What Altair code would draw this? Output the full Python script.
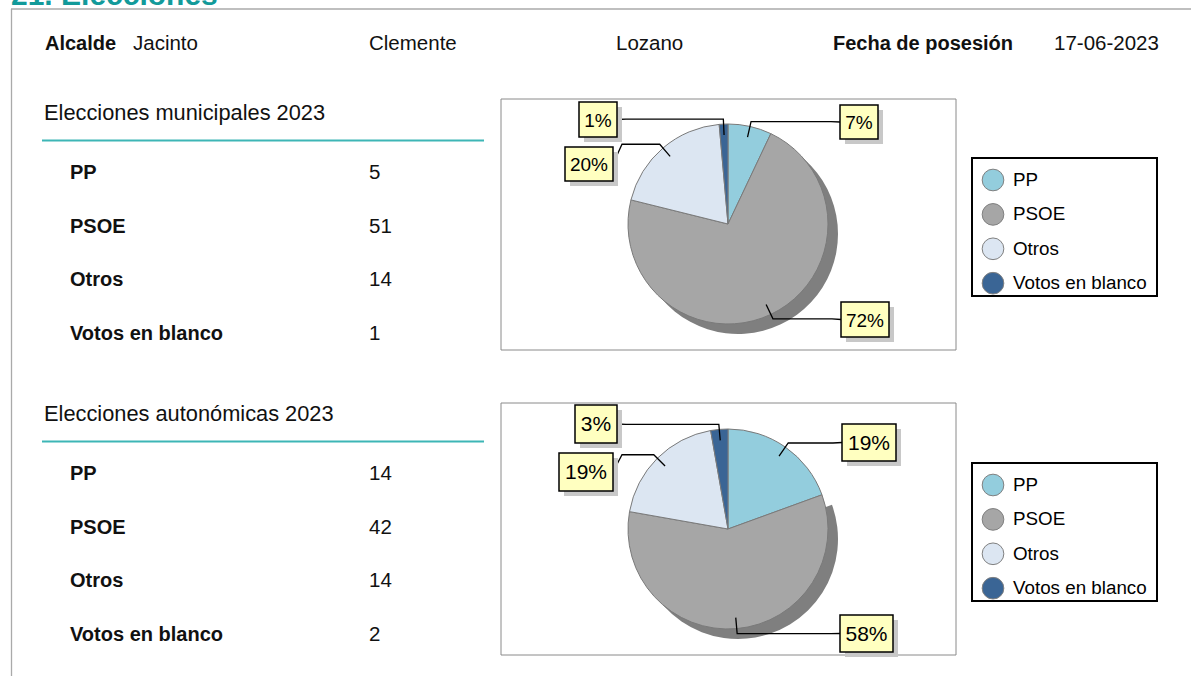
import altair as alt
import pandas as pd
import numpy as np

# ------------------------------------------------------------------ data
titulo = "21. Elecciones"
etiqueta_alcalde = "Alcalde"
alcalde = ["Jacinto", "Clemente", "Lozano"]
etiqueta_fecha = "Fecha de posesión"
fecha_posesion = "17-06-2023"
secciones = ["Elecciones municipales 2023", "Elecciones autonómicas 2023"]
partidos = ["PP", "PSOE", "Otros", "Votos en blanco"]
votos_municipales = [5, 51, 14, 1]
votos_autonomicas = [14, 42, 14, 2]
votos = [votos_municipales, votos_autonomicas]
colores = ["#93CDDD", "#A6A6A6", "#DCE6F2", "#3A6595"]

# ------------------------------------------------------------------ layout (pixels)
W, H = 1191, 676
FONT = "Liberation Sans"
TEAL = "#129A9A"
LINE_TEAL = "#3DB6B6"
sec_dy = 301            # vertical offset of the second text block
pie_dy = 305            # vertical offset of the second chart
pie_centers = [(728, 224), (728, 224 + pie_dy)]
R = 100
frames = [(501, 99, 956, 350), (501, 403, 956, 655)]
legend_boxes = [(972, 158, 1157, 296), (972, 158 + pie_dy, 1157, 296 + pie_dy)]
legend_first_y = 180
legend_step = 34.4
# label boxes (x0, y0, x1, y1) per chart, in the order of `partidos`
label_boxes = [
    [(840, 105, 878, 139), (841, 302, 889, 337), (565, 147, 613, 181), (579, 102, 617, 137)],
    [(842, 424, 896, 461), (840, 615, 893, 652), (559, 453, 613, 491), (575, 405, 617, 443)],
]
label_font = [19, 21]

xs = alt.Scale(domain=[0, W], range=[0, W], nice=False, zero=False)
ys = alt.Scale(domain=[0, H], range=[0, H], nice=False, zero=False)


def X(f):
    return alt.X(f, type="quantitative", scale=xs, axis=None)


def Y(f):
    return alt.Y(f, type="quantitative", scale=ys, axis=None)


layers = []

# page frame lines
frame_lines = pd.DataFrame([
    {"x": 11, "x2": W, "y": 9, "y2": 9},
    {"x": 11.5, "x2": 11.5, "y": 9, "y2": H},
])
layers.append(alt.Chart(frame_lines).mark_rule(color="#AAAAAA", strokeWidth=1.3).encode(
    x=X("x"), x2="x2", y=Y("y"), y2="y2"))

# teal heading underlines
ul = pd.DataFrame([{"x": 42, "x2": 484, "y": 140.5 + i * sec_dy, "y2": 140.5 + i * sec_dy} for i in range(2)])
layers.append(alt.Chart(ul).mark_rule(color=LINE_TEAL, strokeWidth=2).encode(
    x=X("x"), x2="x2", y=Y("y"), y2="y2"))

# chart frames
fr = pd.DataFrame([{"x": a, "y": b, "x2": c, "y2": d} for a, b, c, d in frames])
layers.append(alt.Chart(fr).mark_rect(fill="white", stroke="#8A8A8A", strokeWidth=1).encode(
    x=X("x"), x2="x2", y=Y("y"), y2="y2"))

# pies
color_enc = alt.Color("partido:N", scale=alt.Scale(domain=partidos, range=colores), legend=None)
lead_rows, box_rows, txt_rows = [], [], []
for k in range(2):
    vals = votos[k]
    total = sum(vals)
    df = pd.DataFrame({"partido": partidos, "votos": vals, "idx": list(range(4))})
    cx, cy = pie_centers[k]
    shadow = alt.Chart(df).mark_arc(outerRadius=R, strokeWidth=0).encode(
        theta=alt.Theta("votos:Q", stack=True),
        order=alt.Order("idx:Q"),
        color=alt.value("#7F7F7F"),
        opacity=alt.condition(alt.datum.partido == "PSOE", alt.value(1), alt.value(0)),
        x=alt.value(cx + 10), y=alt.value(cy + 10),
    )
    pie = alt.Chart(df).mark_arc(outerRadius=R, stroke="#7A7A7A", strokeWidth=1).encode(
        theta=alt.Theta("votos:Q", stack=True),
        order=alt.Order("idx:Q"),
        color=color_enc,
        x=alt.value(cx), y=alt.value(cy),
    )
    layers += [shadow, pie]

    cum = 0
    for i, v in enumerate(vals):
        mid = (cum + v / 2) / total * 2 * np.pi
        cum += v
        sx, sy = np.sin(mid), -np.cos(mid)
        inner = (cx + 89 * sx, cy + 89 * sy)
        elbow = (cx + 105 * sx, cy + 105 * sy)
        x0, y0, x1, y1 = label_boxes[k][i]
        right = x0 > cx
        edge = x0 if right else x1
        midy = (y0 + y1) / 2
        p3 = (edge - 9 if right else edge + 9, elbow[1])
        p4 = (edge, midy)
        lid = f"{k}-{i}"
        for j, p in enumerate([inner, elbow, p3, p4]):
            lead_rows.append({"lid": lid, "o": j, "x": p[0], "y": p[1]})
        box_rows.append({"x": x0, "y": y0, "x2": x1, "y2": y1, "k": k})
        pct = f"{round(100 * v / total)}%"
        txt_rows.append({"x": (x0 + x1) / 2, "y": midy, "t": pct, "k": k})

leads = pd.DataFrame(lead_rows)
layers.append(alt.Chart(leads).mark_line(color="black", strokeWidth=1.3).encode(
    x=X("x"), y=Y("y"), detail="lid:N", order=alt.Order("o:Q")))

boxes = pd.DataFrame(box_rows)
shadow_boxes = boxes.assign(x=boxes.x + 5, x2=boxes.x2 + 5, y=boxes.y + 5, y2=boxes.y2 + 5)
layers.append(alt.Chart(shadow_boxes).mark_rect(fill="#C8C8C8").encode(
    x=X("x"), x2="x2", y=Y("y"), y2="y2"))
layers.append(alt.Chart(boxes).mark_rect(fill="#FFFFC0", stroke="black", strokeWidth=1.5).encode(
    x=X("x"), x2="x2", y=Y("y"), y2="y2"))
txt = pd.DataFrame(txt_rows)
for k in range(2):
    layers.append(alt.Chart(txt[txt.k == k]).mark_text(
        font=FONT, fontSize=label_font[k], color="black", align="center", baseline="middle", dy=1).encode(
        x=X("x"), y=Y("y"), text="t:N"))

# legends
lb = pd.DataFrame([{"x": a, "y": b, "x2": c, "y2": d} for a, b, c, d in legend_boxes])
layers.append(alt.Chart(lb).mark_rect(fill="white", stroke="black", strokeWidth=2).encode(
    x=X("x"), x2="x2", y=Y("y"), y2="y2"))
leg = pd.DataFrame([
    {"partido": p, "x": 993, "tx": 1013, "y": legend_first_y + k * pie_dy + i * legend_step}
    for k in range(2) for i, p in enumerate(partidos)
])
layers.append(alt.Chart(leg).mark_point(filled=True, shape="circle", size=470, stroke="#808080",
                                        strokeWidth=1, opacity=1).encode(
    x=X("x"), y=Y("y"), fill=alt.Fill("partido:N", scale=alt.Scale(domain=partidos, range=colores), legend=None)))
layers.append(alt.Chart(leg).mark_text(font=FONT, fontSize=18.8, align="left", baseline="middle", color="black").encode(
    x=X("tx"), y=Y("y"), text="partido:N"))

# texts
reg_rows, bold_rows = [], []
bold_rows.append({"x": 45, "y": 50, "t": etiqueta_alcalde})
for xpos, name in zip([133, 369, 616], alcalde):
    reg_rows.append({"x": xpos, "y": 50, "t": name})
bold_rows.append({"x": 833, "y": 50, "t": etiqueta_fecha})
reg_rows.append({"x": 1054, "y": 50, "t": fecha_posesion})
head_rows = []
for k in range(2):
    head_rows.append({"x": 44, "y": 120 + k * sec_dy, "t": secciones[k]})
    for i, p in enumerate(partidos):
        yb = 179 + k * sec_dy + i * 53.6
        bold_rows.append({"x": 70, "y": yb, "t": p})
        reg_rows.append({"x": 369, "y": yb, "t": str(votos[k][i])})

layers.append(alt.Chart(pd.DataFrame(reg_rows)).mark_text(
    font=FONT, fontSize=20.5, align="left", baseline="alphabetic", color="#111111").encode(
    x=X("x"), y=Y("y"), text="t:N"))
layers.append(alt.Chart(pd.DataFrame(bold_rows)).mark_text(
    font=FONT, fontSize=20, fontWeight="bold", align="left", baseline="alphabetic", color="#111111").encode(
    x=X("x"), y=Y("y"), text="t:N"))
layers.append(alt.Chart(pd.DataFrame(head_rows)).mark_text(
    font=FONT, fontSize=21.8, align="left", baseline="alphabetic", color="#111111").encode(
    x=X("x"), y=Y("y"), text="t:N"))
layers.append(alt.Chart(pd.DataFrame([{"x": 11, "y": 5, "t": titulo}])).mark_text(
    font=FONT, fontSize=30, fontWeight="bold", align="left", baseline="alphabetic", color=TEAL).encode(
    x=X("x"), y=Y("y"), text="t:N"))

chart = alt.layer(*layers).resolve_scale(theta="independent").properties(
    width=W, height=H, padding=0, autosize="none", background="white"
).configure_view(stroke=None)

chart.save("out.html", embed_options={"renderer": "svg", "actions": False})
